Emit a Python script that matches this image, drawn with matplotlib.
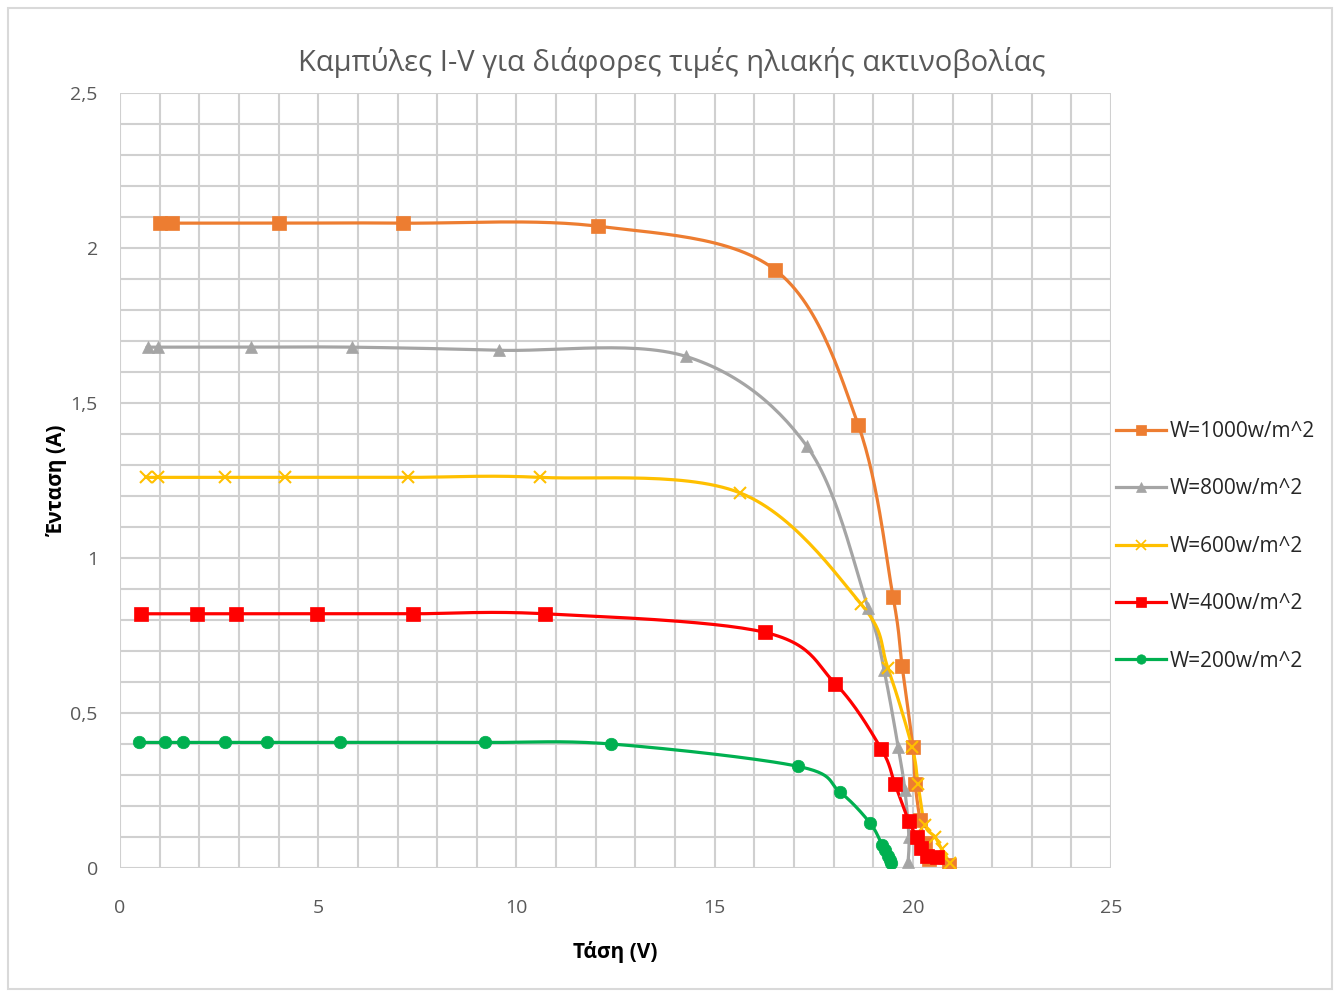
import numpy as np
import matplotlib
matplotlib.use("Agg")
import matplotlib.pyplot as plt
from matplotlib.patches import Rectangle
from matplotlib.ticker import MultipleLocator, FuncFormatter

# I-V measurements for each irradiance level (voltage in V, current in A)
v1000 = [1.0, 1.3, 4.0, 7.14, 12.06, 16.52, 18.62, 19.5, 19.73, 20.0, 20.06, 20.18, 20.3, 20.4, 20.9]
i1000 = [2.08, 2.08, 2.08, 2.08, 2.07, 1.93, 1.43, 0.875, 0.65, 0.39, 0.27, 0.155, 0.08, 0.03, 0.01]

v800 = [0.7, 0.95, 3.3, 5.85, 9.56, 14.28, 17.33, 18.87, 19.27, 19.63, 19.8, 19.9, 19.88]
i800 = [1.68, 1.68, 1.68, 1.68, 1.67, 1.65, 1.36, 0.84, 0.64, 0.39, 0.25, 0.1, 0.02]

v600 = [0.65, 0.96, 2.65, 4.16, 7.27, 10.6, 15.64, 18.7, 19.37, 19.98, 20.13, 20.3, 20.56, 20.73, 20.94]
i600 = [1.26, 1.26, 1.26, 1.26, 1.26, 1.26, 1.21, 0.85, 0.645, 0.39, 0.27, 0.14, 0.1, 0.06, 0.015]

v400 = [0.53, 1.94, 2.93, 4.97, 7.39, 10.72, 16.27, 18.04, 19.2, 19.55, 19.9, 20.1, 20.2, 20.35, 20.6]
i400 = [0.82, 0.82, 0.82, 0.82, 0.82, 0.82, 0.76, 0.595, 0.385, 0.27, 0.15, 0.1, 0.065, 0.04, 0.035]

v200 = [0.48, 1.14, 1.59, 2.65, 3.71, 5.55, 9.21, 12.39, 17.1, 18.16, 18.92, 19.22, 19.3, 19.37, 19.42, 19.45]
i200 = [0.405, 0.405, 0.405, 0.405, 0.405, 0.405, 0.405, 0.4, 0.328, 0.245, 0.145, 0.075, 0.058, 0.04, 0.026, 0.016]

labels = ["W=1000w/m^2", "W=800w/m^2", "W=600w/m^2", "W=400w/m^2", "W=200w/m^2"]
colors = ["#ED7D31", "#A5A5A5", "#FFC000", "#FF0000", "#00B050"]
markers = ["s", "^", "x", "s", "o"]
msizes = [10, 9, 9, 10, 9]

plt.rcParams["font.family"] = ["Open Sans", "DejaVu Sans"]


def smooth(x, y, n=30):
    # Catmull-Rom style bezier smoothing through the measured points
    p = np.column_stack([x, y]).astype(float)
    p = np.vstack([p[0], p, p[-1]])
    t = np.linspace(0, 1, n)[:, None]
    out = []
    for k in range(1, len(p) - 2):
        p0, p1, p2, p3 = p[k - 1], p[k], p[k + 1], p[k + 2]
        b1 = p1 + (p2 - p0) / 6
        b2 = p2 - (p3 - p1) / 6
        seg = ((1 - t) ** 3) * p1 + 3 * ((1 - t) ** 2) * t * b1 + 3 * (1 - t) * t ** 2 * b2 + t ** 3 * p2
        out.append(seg)
    out = np.vstack(out)
    return out[:, 0], out[:, 1]


fig = plt.figure(figsize=(13.43, 9.92), dpi=100)
fig.patches.append(Rectangle((0.006, 0.003), 0.986, 0.989, transform=fig.transFigure,
                             fill=False, edgecolor="#D9D9D9", linewidth=1.5))
ax = fig.add_axes([0.0894, 0.125, 0.7379, 0.7813])

series = [(v1000, i1000), (v800, i800), (v600, i600), (v400, i400), (v200, i200)]
for (v, i), lab, c, m, ms in zip(series, labels, colors, markers, msizes):
    sx, sy = smooth(v, i)
    ax.plot(sx, sy, color=c, linewidth=2.3, zorder=3)
    ax.plot(v, i, linestyle="none", marker=m, color=c, markersize=ms,
            markeredgewidth=1.5 if m == "x" else 0.5, zorder=4)
    ax.plot([], [], color=c, linewidth=2.3, marker=m, markersize=ms * 0.75,
            markeredgewidth=1.2 if m == "x" else 0.5, label=lab)

ax.set_xlim(0, 25)
ax.set_ylim(0, 2.5)
ax.xaxis.set_major_locator(MultipleLocator(5))
ax.xaxis.set_minor_locator(MultipleLocator(1))
ax.yaxis.set_major_locator(MultipleLocator(0.5))
ax.yaxis.set_minor_locator(MultipleLocator(0.1))
ax.yaxis.set_major_formatter(FuncFormatter(lambda val, pos: ("%g" % val).replace(".", ",")))
ax.grid(which="both", color="#D0D0D0", linewidth=1.5)
ax.set_axisbelow(True)
for s in ax.spines.values():
    s.set_visible(False)
ax.tick_params(which="both", length=0, labelsize=14, labelcolor="#595959", pad=16)
ax.tick_params(axis="x", pad=22)

fig.text(0.5, 0.9375, "Καμπύλες I-V για διάφορες τιμές ηλιακής ακτινοβολίας",
         fontsize=21, color="#595959", ha="center", va="center")
ax.set_xlabel("Τάση (V)", fontsize=15, fontweight="bold")
ax.set_ylabel("Ένταση (A)", fontsize=15, fontweight="bold")
ax.xaxis.set_label_coords(0.5, -0.094)
ax.yaxis.set_label_coords(-0.053, 0.5)

leg = ax.legend(loc="center left", bbox_to_anchor=(0.997, 0.415), frameon=False,
                fontsize=15, handlelength=2.4, handletextpad=0.15,
                labelspacing=1.75, borderaxespad=0.0)
for t in leg.get_texts():
    t.set_color("#262626")

fig.savefig("out.png", dpi=100)
